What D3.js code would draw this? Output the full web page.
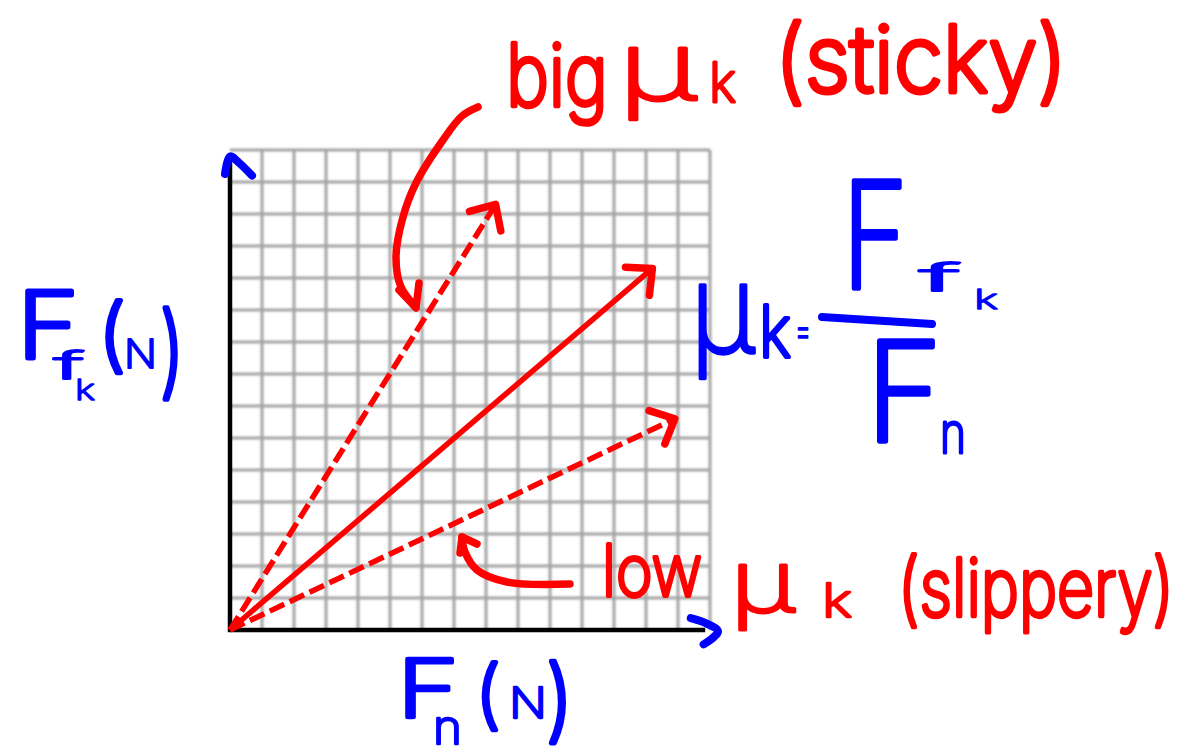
<!DOCTYPE html>
<html>
<head>
<meta charset="utf-8">
<script src="https://cdn.jsdelivr.net/npm/d3@7"></script>
<style>
  html, body { margin: 0; padding: 0; background: #fff; }
  svg { display: block; }
</style>
</head>
<body>
<script>
// Kinetic friction force against normal force, for three surfaces.
const gridSteps = d3.range(0, 16);              // grid lines, 0..15 N on each axis
const surfaces = ["sticky", "medium", "slippery"];
const normalForce = [8.3, 13.2, 13.9];          // Fn (N) at each arrow tip
const frictionForce = [13.3, 11.3, 6.6];        // Ffk (N) at each arrow tip
const dashedLine = [true, false, true];

const W = 1196, H = 756;
const RED = "#ff0000", BLUE = "#0000ff";

const svg = d3.select("body").append("svg")
  .attr("width", W).attr("height", H)
  .attr("viewBox", `0 0 ${W} ${H}`);

const defs = svg.append("defs");
defs.append("filter").attr("id", "soft")
  .append("feGaussianBlur").attr("stdDeviation", 0.8);

const x = d3.scaleLinear().domain([0, 15]).range([230, 710]);
const y = d3.scaleLinear().domain([0, 15]).range([630, 150]);

// ---- graph paper ----
const grid = svg.append("g").attr("filter", "url(#soft)")
  .attr("stroke", "#a3a3a3").attr("stroke-width", 3);
grid.selectAll("line.v").data(gridSteps.slice(1)).join("line")
  .attr("class", "v")
  .attr("x1", d => x(d)).attr("x2", d => x(d))
  .attr("y1", y(0)).attr("y2", y(15));
grid.selectAll("line.h").data(gridSteps.slice(1)).join("line")
  .attr("class", "h")
  .attr("x1", x(0)).attr("x2", x(15))
  .attr("y1", d => y(d)).attr("y2", d => y(d));

// ---- axes ----
const axes = svg.append("g").attr("stroke", "#000").attr("stroke-width", 4.5);
axes.append("line").attr("x1", x(0)).attr("x2", x(0)).attr("y1", y(0) + 2).attr("y2", y(14.85));
axes.append("line").attr("x1", x(0) - 2).attr("x2", x(14.85)).attr("y1", y(0)).attr("y2", y(0));

// blue pen arrowheads on the axes
const pen = (sel, color, w) => sel.attr("fill", "none").attr("stroke", color)
  .attr("stroke-width", w).attr("stroke-linecap", "round").attr("stroke-linejoin", "round");
const penLine = d3.line().curve(d3.curveCatmullRom.alpha(0.5));
svg.append("path").call(pen, BLUE, 8)
  .attr("d", penLine([[x(0) - 5, y(14.25)], [x(0), y(14.8)], [x(0) + 9, y(14.6)], [x(0) + 22, y(14.2)]]));
svg.append("path").call(pen, BLUE, 8)
  .attr("d", penLine([[x(14.4), y(0.37)], [x(14.9), y(0.2)], [x(15.25), y(-0.05)], [x(14.8), y(-0.45)]]));

// ---- friction lines ----
const rays = surfaces.map((s, i) => ({
  name: s, fn: normalForce[i], ff: frictionForce[i], dashed: dashedLine[i]
}));
const rayG = svg.append("g");
rayG.selectAll("line").data(rays).join("line")
  .attr("x1", x(0)).attr("y1", y(0))
  .attr("x2", d => x(d.fn)).attr("y2", d => y(d.ff))
  .attr("stroke", RED).attr("stroke-width", 5.5)
  .attr("stroke-dasharray", d => d.dashed ? "16,6" : null);

function headPoints(tip, from, len, spread) {
  const a = Math.atan2(from[1] - tip[1], from[0] - tip[0]);
  return [
    [tip[0] + len * Math.cos(a + spread), tip[1] + len * Math.sin(a + spread)],
    tip,
    [tip[0] + len * Math.cos(a - spread), tip[1] + len * Math.sin(a - spread)]
  ];
}
rayG.selectAll("path").data(rays).join("path")
  .call(pen, RED, 7.5)
  .attr("d", d => d3.line()(headPoints([x(d.fn), y(d.ff)], [x(0), y(0)], 27, 0.75)));

// ---- pen annotations ----
// curved pointer from "big" down to the steep line
const bigCurve = [[478, 107], [462, 116], [443, 140], [416, 183], [403, 217], [396, 257], [401, 287], [416, 307]];
svg.append("path").call(pen, RED, 7.5).attr("d", penLine(bigCurve));
svg.append("path").call(pen, RED, 7.5).attr("d", d3.line()([[399, 290], [416, 308], [419, 283]]));

// curved pointer from "low" up to the shallow line
const lowCurve = [[570, 584], [507, 582], [477, 570], [465, 552], [462, 537]];
svg.append("path").call(pen, RED, 7.5).attr("d", penLine(lowCurve));
svg.append("path").call(pen, RED, 7.5).attr("d", d3.line()([[460, 553], [462, 537], [477, 544]]));

// fraction bar of the definition
svg.append("path").call(pen, BLUE, 8).attr("d", d3.line()([[822, 317], [932, 324]]));

// ---- pen lettering ----
const labels = [
  // red notes
  { t: "big", x: 506, y: 106, s: 86, len: 102, c: RED },
  { t: "μ", x: 618, y: 100, s: 96, len: 80, c: RED, w: 3 },
  { t: "k", x: 709, y: 102, s: 55, len: 27, c: RED },
  { t: "(sticky)", x: 775, y: 92, s: 92, len: 292, c: RED },
  { t: "low", x: 602, y: 596, s: 72, len: 100, c: RED },
  { t: "μ", x: 730, y: 612, s: 86, len: 66, c: RED, w: 3 },
  { t: "k", x: 822, y: 617, s: 46, len: 30, c: RED },
  { t: "(slippery)", x: 898, y: 616, s: 80, len: 276, c: RED },
  // vertical axis title
  { t: "F", x: 17, y: 358, s: 92, len: 62, c: BLUE },
  { t: "f", x: 54, y: 379, s: 38, len: 30, c: BLUE },
  { t: "k", x: 75, y: 400, s: 28, len: 20, c: BLUE },
  { t: "(", x: 98, y: 362, s: 80, len: 28, c: BLUE },
  { t: "N", x: 124, y: 368, s: 39, len: 33, c: BLUE },
  { t: ")", x: 160, y: 385, s: 100, len: 24, c: BLUE },
  // horizontal axis title
  { t: "F", x: 397, y: 717, s: 80, len: 62, c: BLUE },
  { t: "n", x: 433, y: 744, s: 48, len: 29, c: BLUE },
  { t: "(", x: 475, y: 720, s: 75, len: 26, c: BLUE },
  { t: "N", x: 509, y: 718, s: 42, len: 38, c: BLUE },
  { t: ")", x: 546, y: 731, s: 90, len: 27, c: BLUE },
  // definition of the coefficient
  { t: "μ", x: 690, y: 353, s: 125, len: 66, c: BLUE, w: 3.5 },
  { t: "k", x: 759, y: 357, s: 72, len: 32, c: BLUE },
  { t: "=", x: 795, y: 344, s: 40, len: 16, c: BLUE },
  { t: "F", x: 842, y: 288, s: 147, len: 66, c: BLUE },
  { t: "f", x: 920, y: 291, s: 38, len: 40, c: BLUE },
  { t: "k", x: 974, y: 309, s: 27, len: 24, c: BLUE },
  { t: "F", x: 866, y: 441, s: 137, len: 76, c: BLUE },
  { t: "n", x: 940, y: 453, s: 56, len: 26, c: BLUE }
];

// each label is squeezed or widened horizontally to its pen width
svg.append("g").selectAll("text").data(labels).join("text")
  .attr("font-family", "Inter, 'DejaVu Sans', sans-serif")
  .attr("font-weight", 200)
  .attr("font-size", d => d.s)
  .attr("fill", d => d.c)
  .attr("stroke", d => d.c)
  .attr("stroke-width", d => d.w != null ? d.w : Math.max(1, Math.min(5.5, d.s * 0.055)))
  .attr("stroke-linejoin", "round")
  .attr("stroke-linecap", "round")
  .text(d => d.t)
  .attr("transform", function (d) {
    const natural = this.getComputedTextLength() || d.len;
    const k = d.len / natural;
    return `translate(${d.x},${d.y}) scale(${k},1)`;
  });
</script>
</body>
</html>
